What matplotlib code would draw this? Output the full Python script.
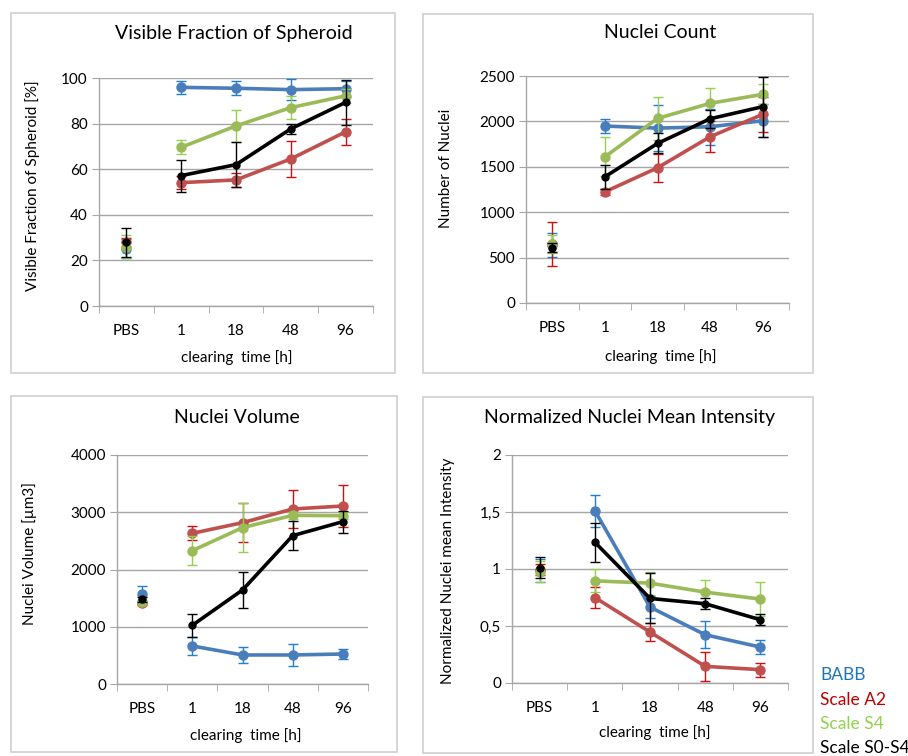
import matplotlib
matplotlib.use("Agg")
import matplotlib.pyplot as plt
from matplotlib.patches import Rectangle
import numpy as np

plt.rcParams['font.family'] = ['Lato', 'DejaVu Sans']

categories = ["PBS", "1", "18", "48", "96"]
series_names = ["BABB", "Scale A2", "Scale S4", "Scale S0-S4"]

# Visible fraction of spheroid [%]
vis_babb = [25.2, 95.9, 95.5, 94.9, 95.3]
vis_babb_err = [4, 3, 3, 4.5, 3.5]
vis_a2 = [28, 54.1, 55.3, 64.5, 76.4]
vis_a2_err = [2, 3, 3, 8, 5.6]
vis_s4 = [26, 69.6, 79, 87, 92.2]
vis_s4_err = [5, 3, 7, 5, 3]
vis_s0 = [27.9, 57.2, 62, 77.7, 89.3]
vis_s0_err = [6.5, 7, 10, 2.3, 10]

# Nuclei count
cnt_babb = [636, 1949, 1926, 1941, 2007]
cnt_babb_err = [130, 75, 250, 200, 180]
cnt_a2 = [647, 1224, 1489, 1831, 2077]
cnt_a2_err = [245, 30, 155, 170, 190]
cnt_s4 = [654, 1610, 2033, 2199, 2298]
cnt_s4_err = [100, 215, 235, 165, 110]
cnt_s0 = [607, 1390, 1757, 2029, 2162]
cnt_s0_err = [50, 130, 110, 100, 330]

# Nuclei volume [um3]
vol_babb = [1572, 664, 507, 507, 524]
vol_babb_err = [140, 160, 145, 190, 90]
vol_a2 = [1409, 2632, 2818, 3057, 3109]
vol_a2_err = [30, 120, 340, 330, 360]
vol_s4 = [1438, 2329, 2731, 2946, 2940]
vol_s4_err = [30, 250, 430, 60, 60]
vol_s0 = [1479, 1025, 1642, 2591, 2836]
vol_s0_err = [40, 200, 320, 250, 190]

# Normalized nuclei mean intensity
int_babb = [0.99, 1.512, 0.666, 0.423, 0.315]
int_babb_err = [0.1, 0.14, 0.1, 0.12, 0.06]
int_a2 = [0.993, 0.750, 0.447, 0.146, 0.117]
int_a2_err = [0.05, 0.09, 0.075, 0.125, 0.06]
int_s4 = [0.978, 0.896, 0.876, 0.797, 0.736]
int_s4_err = [0.09, 0.1, 0.1, 0.11, 0.15]
int_s0 = [1.013, 1.235, 0.742, 0.695, 0.555]
int_s0_err = [0.09, 0.17, 0.22, 0.05, 0.05]

line_colors = ["#4a7ebb", "#c0504d", "#9bbb59", "#000000"]
err_colors = ["#1f7fd0", "#d01010", "#92d050", "#000000"]
legend_colors = ["#1a75bc", "#c00000", "#92d050", "#000000"]

W, H = 908, 756
fig = plt.figure(figsize=(W / 100, H / 100), dpi=100)


def fx(px):
    return px / W


def fy(py):
    return 1 - py / H


panels = [
    dict(box=(11, 13, 395, 373), ax=(99, 78, 373, 306),
         title="Visible Fraction of Spheroid", title_xy=(234, 33),
         ylabel="Visible Fraction of Spheroid [%]", ylabel_xy=(33, 186),
         xlabel_xy=(237, 358), ylim=(0, 100), yticks=[0, 20, 40, 60, 80, 100],
         yticklabels=["0", "20", "40", "60", "80", "100"],
         data=[(vis_babb, vis_babb_err), (vis_a2, vis_a2_err),
               (vis_s4, vis_s4_err), (vis_s0, vis_s0_err)]),
    dict(box=(423, 14, 813, 373), ax=(526, 76, 789, 303),
         title="Nuclei Count", title_xy=(660, 33),
         ylabel="Number of Nuclei", ylabel_xy=(446, 168),
         xlabel_xy=(661, 357), ylim=(0, 2500),
         yticks=[0, 500, 1000, 1500, 2000, 2500],
         yticklabels=["0", "500", "1000", "1500", "2000", "2500"],
         data=[(cnt_babb, cnt_babb_err), (cnt_a2, cnt_a2_err),
               (cnt_s4, cnt_s4_err), (cnt_s0, cnt_s0_err)]),
    dict(box=(11, 396, 397, 752), ax=(117, 455, 368, 684),
         title="Nuclei Volume", title_xy=(237, 417),
         ylabel="Nuclei Volume [µm3]", ylabel_xy=(30, 554),
         xlabel_xy=(246, 736), ylim=(0, 4000),
         yticks=[0, 1000, 2000, 3000, 4000],
         yticklabels=["0", "1000", "2000", "3000", "4000"],
         data=[(vol_babb, vol_babb_err), (vol_a2, vol_a2_err),
               (vol_s4, vol_s4_err), (vol_s0, vol_s0_err)]),
    dict(box=(423, 397, 813, 753), ax=(512, 455, 788, 683),
         title="Normalized Nuclei Mean Intensity", title_xy=(629, 417),
         ylabel="Normalized Nuclei mean Intensity", ylabel_xy=(448, 571),
         xlabel_xy=(655, 733), ylim=(0, 2),
         yticks=[0, 0.5, 1, 1.5, 2],
         yticklabels=["0", "0,5", "1", "1,5", "2"],
         data=[(int_babb, int_babb_err), (int_a2, int_a2_err),
               (int_s4, int_s4_err), (int_s0, int_s0_err)]),
]

grid_col = "#a6a6a6"
x = np.arange(len(categories))

for p in panels:
    bx0, by0, bx1, by1 = p["box"]
    fig.add_artist(Rectangle((fx(bx0), fy(by1)), fx(bx1) - fx(bx0), fy(by0) - fy(by1),
                             transform=fig.transFigure, fill=False,
                             edgecolor="#d0d0d0", linewidth=1.2))
    ax0, ay0, ax1, ay1 = p["ax"]
    ax = fig.add_axes([fx(ax0), fy(ay1), fx(ax1) - fx(ax0), fy(ay0) - fy(ay1)])
    ax.set_xlim(-0.5, len(categories) - 0.5)
    ax.set_ylim(*p["ylim"])
    ax.set_yticks(p["yticks"])
    ax.set_yticklabels(p["yticklabels"], fontsize=11)
    ax.set_xticks(x)
    ax.set_xticklabels(categories, fontsize=11)
    ax.set_xticks(np.arange(-0.5, len(categories)), minor=True)
    ax.tick_params(axis="x", which="major", length=0, pad=13)
    ax.tick_params(axis="x", which="minor", length=5, color=grid_col, direction="out")
    ax.tick_params(axis="y", length=5, color=grid_col, direction="out", pad=3)
    for s in ["top", "right"]:
        ax.spines[s].set_visible(False)
    for s in ["left", "bottom"]:
        ax.spines[s].set_color(grid_col)
        ax.spines[s].set_linewidth(1.0)
    ax.yaxis.grid(True, color=grid_col, linewidth=1.0)
    ax.set_axisbelow(True)
    ax.patch.set_alpha(0)

    for i, (vals, errs) in enumerate(p["data"]):
        lc = line_colors[i]
        ec = err_colors[i]
        ms = 6.5 if i < 3 else 5
        z = 3 + i
        ax.errorbar(x, vals, yerr=errs, fmt="none", ecolor=ec, elinewidth=1.0,
                    capsize=3.3, capthick=1.0, zorder=z)
        ax.plot(x[1:], vals[1:], color=lc, linewidth=2.6, marker="o",
                markersize=ms, zorder=z + 0.5, clip_on=False)
        ax.plot(x[:1], vals[:1], color=lc, linestyle="none", marker="o",
                markersize=ms, zorder=z + 0.5, clip_on=False)

    fig.text(fx(p["title_xy"][0]), fy(p["title_xy"][1]), p["title"],
             ha="center", va="center", fontsize=14)
    fig.text(fx(p["xlabel_xy"][0]), fy(p["xlabel_xy"][1]), "clearing  time [h]",
             ha="center", va="center", fontsize=11)
    fig.text(fx(p["ylabel_xy"][0]), fy(p["ylabel_xy"][1]), p["ylabel"],
             ha="center", va="center", rotation=90, fontsize=11)

legend_y = [675, 700, 724, 748]
for name, col, yy in zip(series_names, legend_colors, legend_y):
    fig.text(fx(820), fy(yy), name, color=col, ha="left", va="center", fontsize=12.5)

fig.savefig("out.png", dpi=100)
